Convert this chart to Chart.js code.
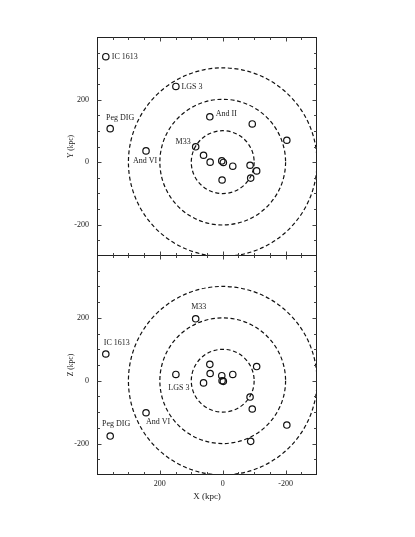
<!DOCTYPE html>
<html><head><meta charset="utf-8">
<script src="https://cdn.jsdelivr.net/npm/chart.js@4/dist/chart.umd.min.js"></script>
<style>
html,body{margin:0;padding:0;background:#fff;}
#wrap{position:relative;width:415px;height:537px;background:#fff;}
canvas{position:absolute;left:0;}
#c1{top:0;} #c2{top:255px;}
</style></head><body>
<div id="wrap"><canvas id="c1" width="415" height="256"></canvas><canvas id="c2" width="415" height="282"></canvas></div>
<script>
// ---- data (kpc) ----
const names = ['IC 1613','LGS 3','Peg DIG','And VI','And II','','','M33','','','','','','','','',''];
const xKpc  = [372, 149, 358, 244,  41, -94, -204,  86,  61, 40,  3, -2, -32, -87, -108, -89,   2];
const yKpc  = [337, 242, 107,  36, 145, 122,   70,  49,  22,  0,  4, -1, -13, -10,  -28, -51, -57];
const zKpc  = [ 85,  20,-176,-102,  52, -90, -141, 197,  -7, 23, 16, -2,  20, -52,   45,-193,   0];
const ringRadii = [100, 200, 300];
const labelTicks = [-200, 0, 200];
const tickMarks = [-250,-200,-150,-100,-50,0,50,100,150,200,250,300,350];
const topLabelled = ['IC 1613','LGS 3','Peg DIG','And VI','And II','M33'];
const bottomLabelled = ['M33','IC 1613','LGS 3','Peg DIG','And VI'];

// ---- label placement (style: pixel offsets) ----
const topLabelStyle = {
  'IC 1613':[6,0,'left'], 'LGS 3':[5.5,0,'left'], 'Peg DIG':[10,-11,'center'],
  'And VI':[-1,10,'center'], 'And II':[6,-3,'left'], 'M33':[-5,-5,'right']
};
const bottomLabelStyle = {
  'M33':[3,-12,'center'], 'IC 1613':[11,-11,'center'], 'LGS 3':[3,13,'center'],
  'Peg DIG':[6,-12,'center'], 'And VI':[12,9,'center']
};

const serif = '"Liberation Serif", "Times New Roman", serif';
const txt = '#222';

function framePlugin(labelled, styleMap) {
  return {
    id: 'frame',
    beforeDatasetsDraw(chart) {
      const {ctx, chartArea: a, scales: {x, y}} = chart;
      ctx.save();
      ctx.beginPath(); ctx.rect(a.left, a.top, a.right - a.left, a.bottom - a.top); ctx.clip();
      ctx.strokeStyle = '#111'; ctx.lineWidth = 1.2; ctx.setLineDash([4, 2.6]);
      const cx = x.getPixelForValue(0), cy = y.getPixelForValue(0);
      ringRadii.forEach(r => {
        const rp = Math.abs(x.getPixelForValue(r) - cx);
        ctx.beginPath(); ctx.arc(cx, cy, rp, 0, Math.PI * 2); ctx.stroke();
      });
      ctx.restore();
    },
    afterDatasetsDraw(chart) {
      const {ctx} = chart;
      const meta = chart.getDatasetMeta(0);
      ctx.save();
      ctx.font = '8px ' + serif; ctx.fillStyle = txt; ctx.textBaseline = 'middle';
      labelled.forEach(n => {
        const i = names.indexOf(n);
        const el = meta.data[i];
        const s = styleMap[n];
        ctx.textAlign = s[2];
        ctx.fillText(n, el.x + s[0], el.y + s[1]);
      });
      ctx.restore();
    },
    afterDraw(chart) {
      const {ctx, chartArea: a, scales: {x, y}} = chart;
      ctx.save();
      ctx.strokeStyle = '#222'; ctx.lineWidth = 1;
      const L = Math.round(a.left) + 0.5, R = Math.round(a.right) - 0.5;
      const T = Math.round(a.top) + 0.5, B = Math.round(a.bottom) - 0.5;
      ctx.strokeRect(L, T, R - L, B - T);
      ctx.strokeStyle = '#444';
      tickMarks.forEach(v => {
        const len = (v % 200 === 0) ? 4 : 2.5;
        const px = Math.round(x.getPixelForValue(v)) + 0.5;
        const py = Math.round(y.getPixelForValue(v)) + 0.5;
        ctx.beginPath();
        ctx.moveTo(px, B); ctx.lineTo(px, B - len);
        ctx.moveTo(px, T); ctx.lineTo(px, T + len);
        ctx.moveTo(L, py); ctx.lineTo(L + len, py);
        ctx.moveTo(R, py); ctx.lineTo(R - len, py);
        ctx.stroke();
      });
      ctx.restore();
    }
  };
}

function zeroPad(s) { s.paddingTop = 0; s.paddingBottom = 0; s.paddingLeft = 0; s.paddingRight = 0; }

function makeChart(id, yVals, yTitle, showX, labelled, styleMap) {
  const pts = xKpc.map((v, i) => ({x: v, y: yVals[i]}));
  return new Chart(document.getElementById(id), {
    type: 'scatter',
    data: { datasets: [{
      data: pts, pointStyle: 'circle', pointRadius: 3.2, pointHoverRadius: 3.2,
      borderColor: '#111', borderWidth: 1.2, backgroundColor: 'rgba(0,0,0,0)'
    }]},
    options: {
      responsive: false, animation: false, devicePixelRatio: 1,
      events: [],
      layout: { autoPadding: false,
                padding: showX ? {left: 67, right: 98, top: 0, bottom: 35}
                               : {left: 67, right: 98, top: 37, bottom: 0} },
      plugins: { legend: {display: false}, tooltip: {enabled: false} },
      scales: {
        x: {
          type: 'linear', min: -300, max: 400, reverse: true, display: showX,
          grid: {display: false, drawTicks: false}, border: {display: false},
          afterBuildTicks: s => { s.ticks = labelTicks.map(v => ({value: v})); },
          afterFit: s => { s.height = showX ? 27 : 0; zeroPad(s); },
          ticks: {font: {family: serif, size: 8}, color: txt, padding: 4, maxRotation: 0},
          title: {display: true, text: 'X (kpc)', font: {family: serif, size: 9}, color: txt, padding: 0}
        },
        y: {
          type: 'linear', min: -300, max: 400,
          grid: {display: false, drawTicks: false}, border: {display: false},
          afterBuildTicks: s => { s.ticks = labelTicks.map(v => ({value: v})); },
          afterFit: s => { s.width = 30; zeroPad(s); },
          ticks: {font: {family: serif, size: 8}, color: txt, padding: 8},
          title: {display: true, text: yTitle, font: {family: serif, size: 7.5}, color: txt, padding: 0}
        }
      }
    },
    plugins: [framePlugin(labelled, styleMap)]
  });
}

makeChart('c1', yKpc, 'Y (kpc)', false, topLabelled, topLabelStyle);
makeChart('c2', zKpc, 'Z (kpc)', true, bottomLabelled, bottomLabelStyle);
</script>
</body></html>
